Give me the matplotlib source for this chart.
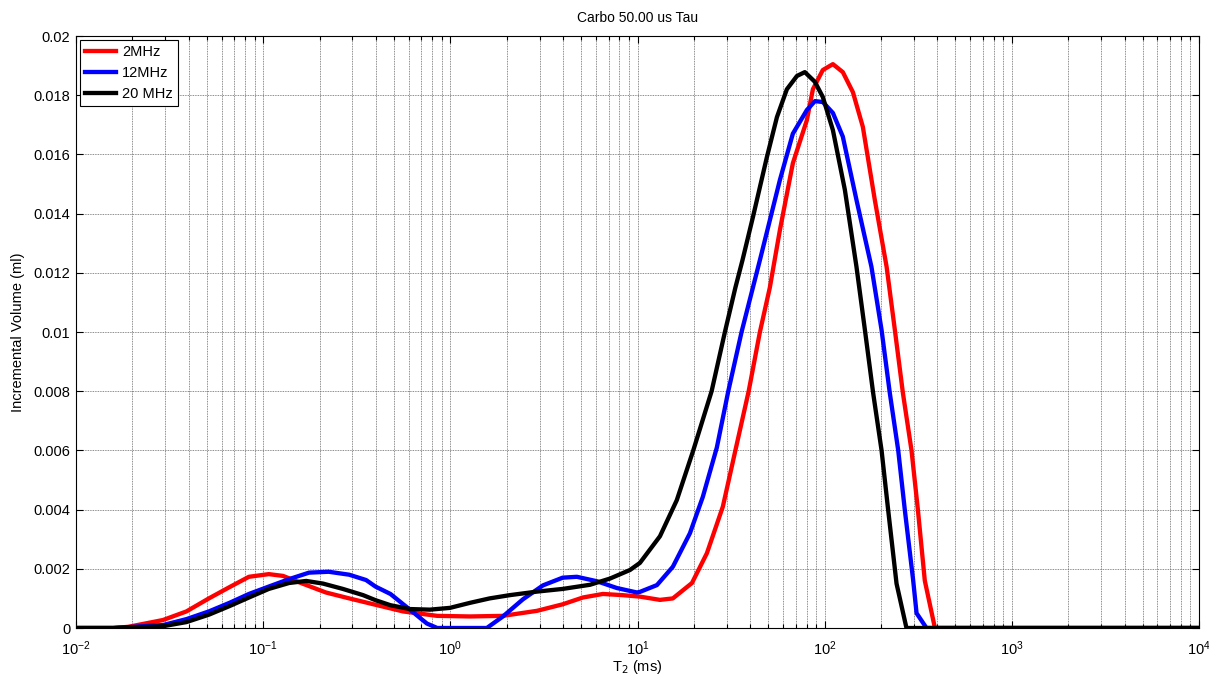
import numpy as np
import matplotlib
matplotlib.use("Agg")
import matplotlib.pyplot as plt
from matplotlib.ticker import LogLocator, FixedLocator, FixedFormatter

plt.rcParams['font.family'] = ['Liberation Sans', 'DejaVu Sans']

# ---- data (log10 of T2 in ms, incremental volume in ml) ----
red_logT2 = [-2.0, -1.80, -1.72, -1.535, -1.41, -1.29, -1.18, -1.076, -0.97, -0.894, -0.79,
             -0.665, -0.54, -0.41, -0.253, -0.07, 0.105, 0.281, 0.463, 0.60, 0.708, 0.815,
             0.92, 1.013, 1.12, 1.189, 1.291, 1.371, 1.456, 1.523, 1.594, 1.654, 1.707,
             1.761, 1.83, 1.905, 1.937, 1.99, 2.044, 2.097, 2.151, 2.204, 2.268, 2.331,
             2.375, 2.418, 2.464, 2.498, 2.535, 2.589, 4.0]
red_vol = [0.0, 0.0, 0.00004, 0.00027, 0.00056, 0.0010, 0.00138, 0.00173, 0.00182, 0.00176,
           0.0015, 0.0012, 0.0010, 0.0008, 0.00056, 0.00041, 0.00039, 0.00041, 0.00058,
           0.0008, 0.00103, 0.00115, 0.00111, 0.00106, 0.00095, 0.0010, 0.00152, 0.00253,
           0.0041, 0.006, 0.008, 0.010, 0.0115, 0.01345, 0.0157, 0.01716, 0.0182,
           0.01885, 0.01905, 0.01878, 0.0181, 0.01693, 0.01446, 0.0122, 0.01007, 0.00794,
           0.006, 0.004, 0.0016, 0.0, 0.0]

blue_logT2 = [-2.0, -1.80, -1.535, -1.41, -1.29, -1.18, -1.076, -0.97, -0.862, -0.755, -0.65,
              -0.54, -0.45, -0.40, -0.32, -0.216, -0.125, -0.07, 0.195, 0.281, 0.388, 0.495,
              0.60, 0.676, 0.783, 0.89, 0.997, 1.013, 1.104, 1.189, 1.28, 1.349, 1.424,
              1.485, 1.556, 1.654, 1.761, 1.83, 1.905, 1.948, 1.99, 2.044, 2.097, 2.17, 2.25,
              2.304, 2.348, 2.393, 2.428, 2.473, 2.491, 2.544, 4.0]
blue_vol = [0.0, 0.0, 0.0001, 0.0003, 0.00056, 0.00085, 0.00115, 0.0014, 0.00165, 0.00187,
            0.0019, 0.0018, 0.00162, 0.0014, 0.00115, 0.00062, 0.00015, 0.0, 0.0, 0.00039,
            0.00097, 0.00144, 0.0017, 0.00173, 0.00158, 0.00135, 0.0012, 0.00122, 0.00145,
            0.00207, 0.0032, 0.00443, 0.0061, 0.008, 0.010, 0.01243, 0.01514, 0.0167,
            0.0175, 0.0178, 0.01777, 0.0174, 0.0166, 0.01446, 0.0122, 0.01007, 0.00794,
            0.006, 0.004, 0.0016, 0.0005, 0.0, 0.0]

black_logT2 = [-2.0, -1.80, -1.535, -1.41, -1.29, -1.18, -1.076, -0.97, -0.862, -0.77,
               -0.68, -0.574, -0.466, -0.40, -0.32, -0.216, -0.109, -0.002, 0.105, 0.21,
               0.318, 0.463, 0.60, 0.746, 0.853, 0.96, 1.013, 1.12, 1.21, 1.298, 1.396,
               1.467, 1.523, 1.561, 1.617, 1.691, 1.745, 1.798, 1.852, 1.894, 1.948, 1.99,
               2.044, 2.108, 2.17, 2.215, 2.259, 2.304, 2.339, 2.384, 2.437, 4.0]
black_vol = [0.0, 0.0, 0.00006, 0.0002, 0.00045, 0.00074, 0.00103, 0.00132, 0.00152, 0.00159,
             0.0015, 0.00132, 0.00111, 0.00094, 0.00077, 0.00064, 0.00062, 0.00068, 0.00085,
             0.0010, 0.00111, 0.00123, 0.00132, 0.00146, 0.00167, 0.00196, 0.0022, 0.0031,
             0.00432, 0.006, 0.008, 0.010, 0.0115, 0.01243, 0.01389, 0.0159,
             0.01726, 0.0182, 0.01865, 0.01878, 0.01845, 0.01794, 0.01682, 0.0148, 0.0122,
             0.01007, 0.00794, 0.006, 0.004, 0.0015, 0.0, 0.0]

series_labels = ['2MHz', '12MHz', '20 MHz']
series_colors = ['#ff0000', '#0000ff', '#000000']
ytick_values = [0, 0.002, 0.004, 0.006, 0.008, 0.01, 0.012, 0.014, 0.016, 0.018, 0.02]
ytick_labels = ['0', '0.002', '0.004', '0.006', '0.008', '0.01', '0.012', '0.014',
                '0.016', '0.018', '0.02']

fig = plt.figure(figsize=(12.09, 6.75), dpi=100)
ax = fig.add_axes([76 / 1209, 47 / 675, 1123 / 1209, 592 / 675])

for lx, v, lab, c in zip([red_logT2, blue_logT2, black_logT2],
                         [red_vol, blue_vol, black_vol],
                         series_labels, series_colors):
    ax.plot(10 ** np.array(lx), v, color=c, lw=3.1, label=lab, solid_joinstyle='round',
            zorder=3)

ax.set_xscale('log')
ax.set_xlim(1e-2, 1e4)
ax.set_ylim(0, 0.02)
ax.xaxis.set_major_locator(LogLocator(base=10, numticks=20))
ax.xaxis.set_minor_locator(LogLocator(base=10, subs=np.arange(2, 10), numticks=20))
ax.yaxis.set_major_locator(FixedLocator(ytick_values))
ax.yaxis.set_major_formatter(FixedFormatter(ytick_labels))

gc = (0.4, 0.4, 0.4)
ax.grid(True, which='major', axis='both', color=gc, lw=0.6, ls=(0, (1, 1)))
ax.grid(True, which='minor', axis='x', color=gc, lw=0.6, ls=(0, (1, 1)))

ax.tick_params(which='both', direction='in', top=True, right=True, labelsize=10.5,
               width=0.8, colors='black')
ax.tick_params(which='major', length=5)
ax.tick_params(axis='y', which='major', pad=4)
ax.tick_params(axis='x', which='major', pad=8)
ax.tick_params(which='minor', length=3)
for s in ax.spines.values():
    s.set_linewidth(0.8)
    s.set_color('black')

ax.set_title('Carbo 50.00 us Tau', fontsize=10, pad=10)
ax.set_xlabel('T$_2$ (ms)', fontsize=10.5, labelpad=0)
ax.set_ylabel('Incremental Volume (ml)', fontsize=10.5, labelpad=6)

leg = ax.legend(loc='upper left', fontsize=10.5, frameon=True, fancybox=False,
                edgecolor='black', framealpha=1, borderaxespad=0.3, handlelength=2.1,
                handletextpad=0.4, labelspacing=0.45, borderpad=0.35)
leg.get_frame().set_linewidth(0.8)

fig.savefig('out.png', dpi=100)
